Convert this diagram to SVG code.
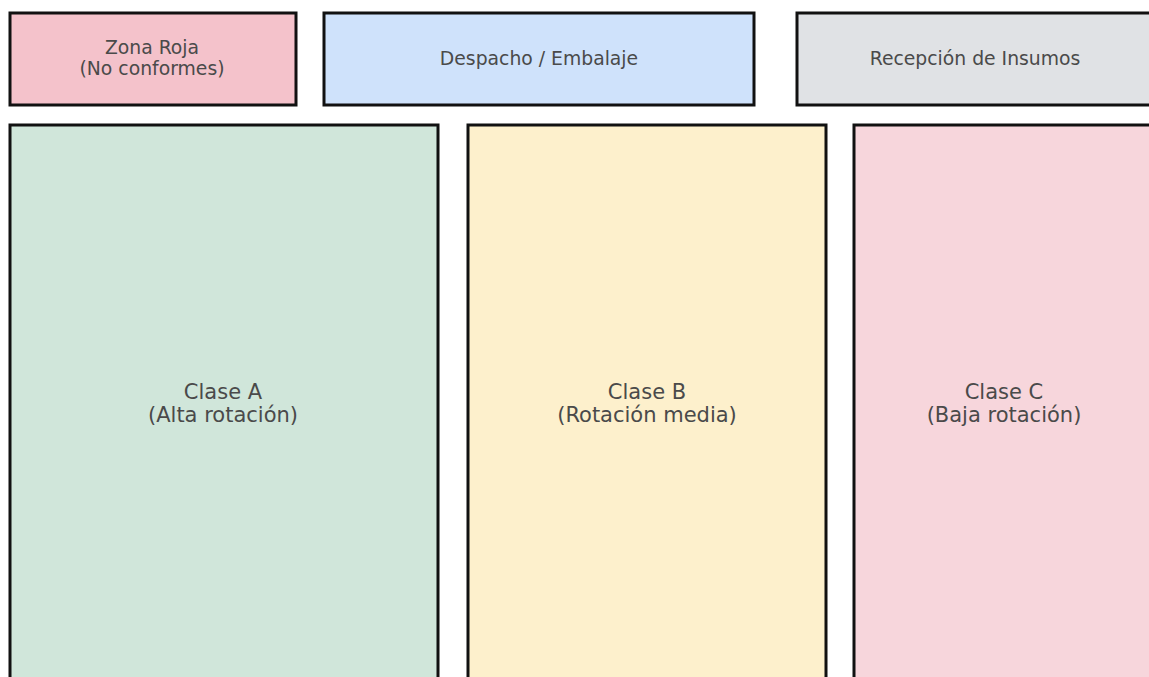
<svg xmlns="http://www.w3.org/2000/svg" width="1149" height="677" viewBox="0 0 1149 677">
<style>
.b{stroke:#111;stroke-width:3}
.t{font-family:"DejaVu Sans",sans-serif;text-anchor:middle;fill:#4a4a4a}
.s{font-size:18.8px}
.l{font-size:21px}
</style>
<rect width="1149" height="677" fill="#ffffff"/>
<g id="zona-roja">
<rect class="b" x="10" y="13" width="286" height="92" fill="#f4c2cb"/>
<text class="t s" x="152" y="54" fill="#6a4852">Zona Roja</text>
<text class="t s" x="152" y="75" fill="#6a4852">(No conformes)</text>
</g>
<g id="despacho">
<rect class="b" x="324" y="13" width="430" height="92" fill="#cfe2fb"/>
<text class="t s" x="539" y="65" fill="#3f4a62">Despacho / Embalaje</text>
</g>
<g id="recepcion">
<rect class="b" x="797" y="13" width="360" height="92" fill="#e0e2e5"/>
<text class="t s" x="975" y="65">Recepción de Insumos</text>
</g>
<g id="clase-a">
<rect class="b" x="10" y="125" width="428" height="570" fill="#d0e6da"/>
<text class="t l" x="223" y="399">Clase A</text>
<text class="t l" x="223" y="422">(Alta rotación)</text>
</g>
<g id="clase-b">
<rect class="b" x="468" y="125" width="358" height="570" fill="#fdf0cc"/>
<text class="t l" x="647" y="399">Clase B</text>
<text class="t l" x="647" y="422">(Rotación media)</text>
</g>
<g id="clase-c">
<rect class="b" x="854" y="125" width="310" height="570" fill="#f7d6dc"/>
<text class="t l" x="1004" y="399">Clase C</text>
<text class="t l" x="1004" y="422">(Baja rotación)</text>
</g>
<g id="connectors"></g>
</svg>
